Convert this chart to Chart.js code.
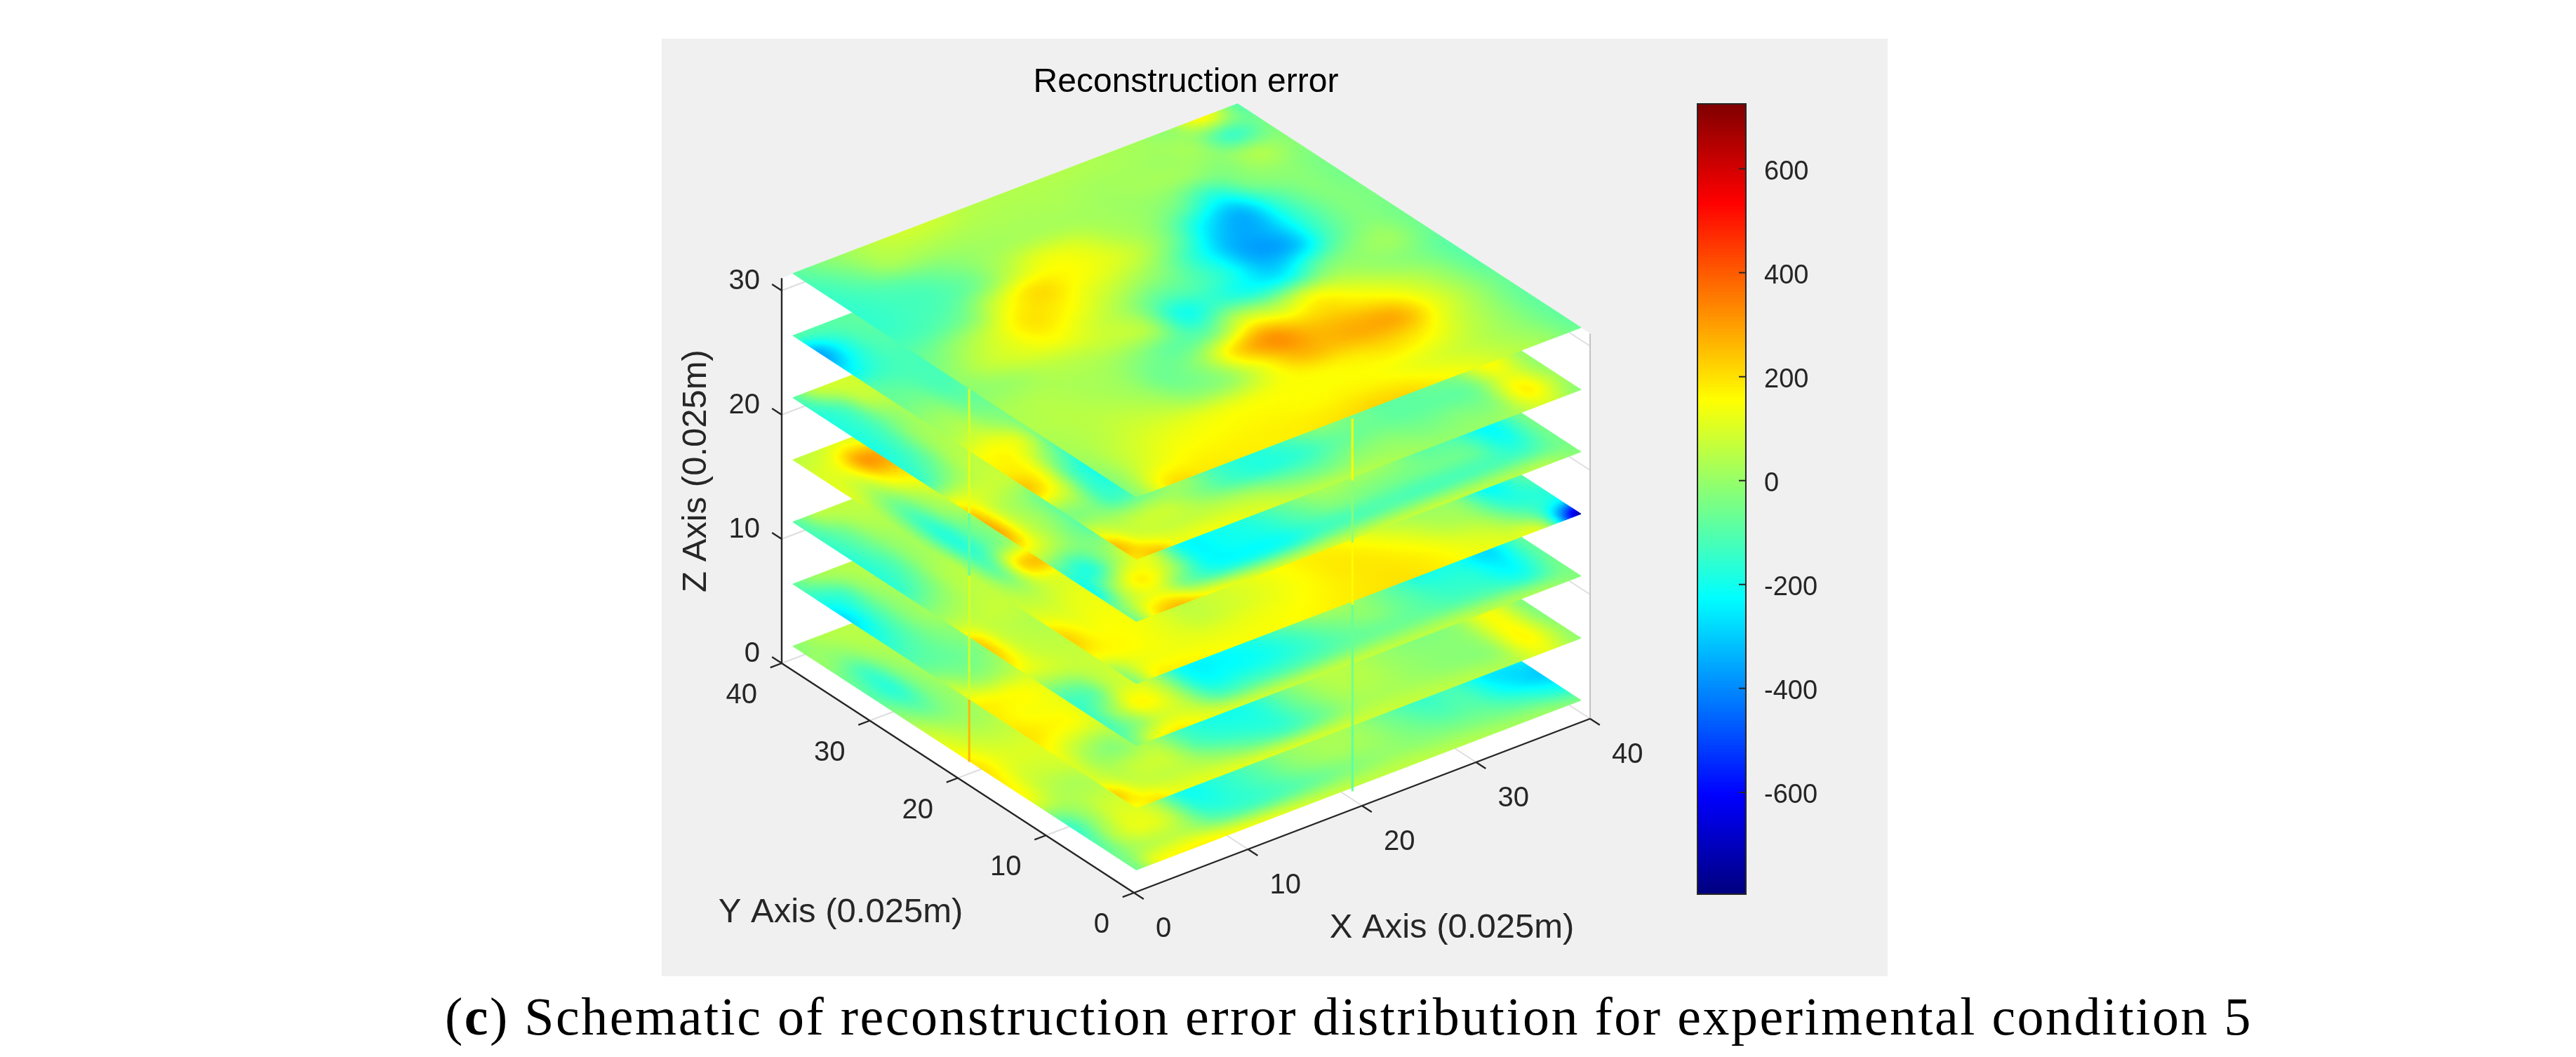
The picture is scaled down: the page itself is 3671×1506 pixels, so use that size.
<!DOCTYPE html>
<html>
	<head>
		<meta charset="utf-8">
		<title>Reconstruction error</title>
		<script src="https://cdn.jsdelivr.net/npm/chart.js"></script>
		<style>
			body {
				margin: 0;
				background: #fff;
				width: 3671px;
				height: 1506px;
				position: relative;
				overflow: hidden;
			}

			#panel {
				position: absolute;
				left: 943px;
				top: 55px;
				width: 1747px;
				height: 1336px;
				background: #f0f0f0;
			}

			#main {
				position: absolute;
				left: 0;
				top: 0;
			}

			#bar {
				position: absolute;
				left: 2418px;
				top: 147px;
			}

			#caption {
				position: absolute;
				left: 634px;
				top: 1405px;
				font: 76px "Liberation Serif", serif;
				letter-spacing: 2.5px;
				color: #000;
				white-space: nowrap;
			}
		</style>
	</head>
	<body>
		<div id="panel"></div>
		<canvas id="main" width="3671" height="1506"></canvas>
		<canvas id="bar" width="220" height="1128"></canvas>
		<div id="caption">(<b>c</b>) Schematic of reconstruction error distribution for experimental condition 5</div>
		<script>
			const titleText = 'Reconstruction error';
			const xLabel = 'X Axis (0.025m)';
			const yLabel = 'Y Axis (0.025m)';
			const zLabel = 'Z Axis (0.025m)';
			const xTicks = [0, 10, 20, 30, 40];
			const yTicks = [0, 10, 20, 30, 40];
			const zTicks = [0, 10, 20, 30];
			const barTicks = [-600, -400, -200, 0, 200, 400, 600];
			const barMin = -796;
			const barMax = 725;

			const gridX = [1.75, 4.75, 7.75, 10.75, 13.75, 16.75, 19.75, 22.75, 25.75, 28.75, 31.75, 34.75, 37.75, 40.75];
			const gridY = [2, 5, 8, 11, 14, 17, 20, 23, 26, 29, 32, 35, 38, 41];
			const leftX = [1.75, 3.7, 5.65, 8];
			const rightY = [2, 4.3, 6.7, 9.8];

			// top slice, z = 30. rows go along y, columns along x
			const sliceZ30 = [
				[-30, 190, 185, 180, 175, 180, 195, 215, 210, 165, 120, 60, 10, -70],
				[-20, 100, 150, 160, 165, 165, 160, 165, 155, 125, 90, 45, -10, -80],
				[10, 70, 110, 125, 130, 135, 150, 160, 175, 200, 170, 80, 0, -80],
				[30, 50, 70, 50, -10, 0, 130, 260, 260, 280, 270, 130, 20, -70],
				[40, 50, 40, 10, -60, 0, 200, 310, 235, 220, 170, 90, 0, -90],
				[30, 40, 30, 20, -30, -80, -60, 100, 60, 120, 70, 10, -30, -90],
				[-10, 10, 50, 60, 60, 30, -190, -140, -200, -220, -80, -20, 10, -60],
				[-10, 60, 110, 150, 100, 30, -80, -100, -180, -340, -320, -120, -30, -50],
				[-60, 10, 90, 190, 170, 100, 40, -30, -180, -340, -330, -150, -40, -40],
				[-120, -100, -40, 110, 200, 160, 120, 60, -60, -250, -330, -130, -30, -50],
				[-150, -130, -110, -50, 60, 130, 110, 40, 0, -70, -170, -40, -10, -40],
				[-150, -120, -90, -40, 10, 30, 30, 20, 10, 10, 0, -20, 30, -20],
				[-130, -70, 20, 30, 30, 30, 30, 30, 20, 20, 10, 10, -130, -50],
				[-90, -20, 40, 80, 80, 50, 40, 40, 40, 30, 20, 0, 150, -100]
			];

			// lower slices only show an L shaped strip, the rest is under the slice above.
			// left strips: y = 41 down to 14, x = leftX
			const leftZ25 = [
				[-100, -100, -90, -70],
				[-350, -200, -110, -100],
				[-250, -170, -120, -120],
				[-100, -110, -120, -120],
				[-60, -60, -110, -90],
				[0, 0, -60, -60],
				[40, 60, 0, -60],
				[140, 150, 90, -130],
				[180, 150, -20, -180],
				[230, 120, -120, -220]
			];
			// corners: y = rightY, x = leftX
			const cornerZ25 = [
				[190, 240, 140, 140],
				[250, 120, 80, 70],
				[100, 50, 60, 60],
				[-30, -30, -130, -100]
			];
			// right strips: y = rightY, x = 10.75 up to 40.75
			const rightZ25 = [
				[130, 100, 60, 50, 40, 20, 0, 0, 20, 100, -20],
				[60, 30, -40, -60, -20, -10, -40, -30, -20, 170, 20],
				[-20, -120, -170, -150, -80, -60, -80, -80, -60, 120, 0],
				[0, -130, -170, -120, -30, -60, -100, -80, -30, 130, -20]
			];
			const leftZ20 = [
				[-100, 60, 90, 80],
				[-170, -100, 50, 60],
				[-180, -130, -20, 40],
				[-190, -120, 0, 30],
				[-170, -100, 20, 50],
				[-120, -30, 50, 60],
				[120, 90, 70, 60],
				[250, 70, 0, -80],
				[270, 80, -10, -120],
				[110, 40, -40, -100]
			];
			const cornerZ20 = [
				[-60, 190, 250, 160],
				[-60, 90, 120, -50],
				[-200, 30, 170, 60],
				[-150, -170, 0, 100]
			];
			const rightZ20 = [
				[120, 90, 80, 80, 80, 70, 70, 60, 50, 40, -30],
				[-170, -200, -190, -130, -110, -100, -110, -110, -110, -120, -50],
				[-210, -210, -180, -100, -30, -40, -50, -60, -80, -200, -50],
				[-190, -190, -150, -60, 20, 20, 0, -90, -120, -220, -50]
			];
			const leftZ15 = [
				[60, 80, 120, 100],
				[100, 140, 300, 260],
				[110, 60, 170, 200],
				[50, -50, 40, 120],
				[20, -130, -10, 60],
				[10, -170, -60, 10],
				[40, -140, -40, 40],
				[50, -60, 210, 240],
				[60, 30, 100, 120],
				[100, 90, 120, 130]
			];
			const cornerZ15 = [
				[-40, 160, 170, 160],
				[20, 120, 140, 130],
				[150, 160, 150, 120],
				[220, 150, 150, 130]
			];
			const rightZ15 = [
				[150, 150, 160, 175, 190, 195, 175, 140, 110, 40, -750],
				[120, 130, 145, 165, 185, 190, 165, 110, 60, -80, -250],
				[70, 90, 120, 155, 185, 175, 125, 50, 0, -170, -150],
				[70, 90, 120, 155, 170, 135, 60, 20, 0, -200, -50]
			];
			const leftZ10 = [
				[-100, 40, 60, 60],
				[-130, -60, 30, 40],
				[-160, -90, 0, 30],
				[-170, -110, 0, 30],
				[-150, -70, 30, 50],
				[-40, 0, 50, 60],
				[60, 60, 70, 60],
				[220, 80, 50, 40],
				[200, 90, 60, 60],
				[80, 80, 70, 80]
			];
			const cornerZ10 = [
				[-40, 130, 180, 130],
				[-110, -10, 90, 70],
				[-130, 20, 160, 70],
				[-130, -90, 60, 60]
			];
			const rightZ10 = [
				[100, 80, 70, 70, 70, 60, 60, 60, 40, 20, -30],
				[-110, -120, -120, -100, -70, -60, -70, -100, -120, -170, -50],
				[-200, -220, -200, -140, -60, -20, -80, -150, -170, -240, -80],
				[-180, -190, -150, -60, 30, 20, -60, -170, -170, -250, -60]
			];
			const leftZ5 = [
				[-80, 10, 40, 60],
				[-180, -130, 0, 40],
				[-270, -140, -20, 30],
				[-200, -120, -20, 30],
				[-130, -90, -40, 0],
				[-60, -70, -50, 10],
				[60, 0, 10, 70],
				[170, 150, 140, 100],
				[175, 150, 140, 110],
				[190, 160, 140, 90]
			];
			const cornerZ5 = [
				[140, 190, 130, 120],
				[220, 100, 70, 60],
				[100, 50, 70, 60],
				[110, 20, -20, 20]
			];
			const rightZ5 = [
				[120, 110, 100, 90, 80, 70, 60, 50, 40, 120, -10],
				[0, -80, -120, -60, 20, 30, 10, -10, 0, 160, 0],
				[-110, -170, -170, -60, 30, 40, 0, -20, 0, 150, -30],
				[-110, -170, -150, -30, 50, 50, 10, -20, 0, 130, -20]
			];
			const leftZ0 = [
				[-20, 30, 50, 50],
				[0, -20, 30, 50],
				[-60, -130, -10, 40],
				[-90, -160, -30, 30],
				[-20, -80, -20, 30],
				[70, 20, 10, 50],
				[130, 80, 60, 80],
				[190, 120, 100, 110],
				[170, 90, 80, 100],
				[120, 50, 30, 50]
			];
			const cornerZ0 = [
				[-60, 130, 160, 170],
				[-60, 30, 60, 40],
				[-100, 50, 120, 70],
				[-130, 0, 90, 60]
			];
			const rightZ0 = [
				[140, 120, 90, 70, 60, 60, 50, 40, 20, 10, -40],
				[-80, -120, -100, -60, -20, 0, -20, -40, -60, -120, -200],
				[-170, -160, -100, -20, 20, 10, -50, -110, -110, -230, -300],
				[-170, -140, -80, 0, 30, 20, -60, -130, -110, -230, -200]
			];

			const lowerZ = [0, 5, 10, 15, 20, 25];
			const lowerLeft = [leftZ0, leftZ5, leftZ10, leftZ15, leftZ20, leftZ25];
			const lowerCorner = [cornerZ0, cornerZ5, cornerZ10, cornerZ15, cornerZ20, cornerZ25];
			const lowerRight = [rightZ0, rightZ5, rightZ10, rightZ15, rightZ20, rightZ25];

			// the thin vertical stripes, value per 5 unit step of z
			const stripeA = [260, 90, 100, -80, 120, 100];
			const stripeB = [-90, -60, -70, 160, -20, 160];

			// view of the 3d axes, data units to the plane the chart scales show
			function project(x, y, z) {
				return {
					x: 1616 + 16.25 * x - 12.55 * y,
					y: 1272 - 6.2 * x - 8.175 * y - 17.7 * z
				};
			}

			function jet(v) {
				const t = (v - barMin) / (barMax - barMin);
				const part = (c) => Math.round(255 * Math.min(1, Math.max(0, 1.5 - Math.abs(4 * t - c))));
				return `rgb(${part(3)},${part(2)},${part(1)})`;
			}

			function cubic(a, b, c, d, t) {
				return b + 0.5 * t * (c - a + t * (2 * a - 5 * b + 4 * c - d + t * (3 * (b - c) + d - a)));
			}

			class SliceController extends Chart.ScatterController {
				draw() {
					const ds = this.getDataset();
					const ctx = this.chart.ctx;
					const sx = this._cachedMeta.xScale;
					const sy = this._cachedMeta.yScale;
					const cols = ds.cols;
					const rows = ds.data.length / cols;
					const node = (j, i) => ds.data[Math.min(rows - 1, Math.max(0, j)) * cols + Math.min(cols - 1, Math.max(0, i))];
					const px = (n) => ({ x: sx.getPixelForValue(n.x), y: sy.getPixelForValue(n.y) });
					const value = (j, i, s, t) => {
						const r = [];
						for (let k = -1; k < 3; k++) {
							r.push(cubic(node(j + k, i - 1).v, node(j + k, i).v, node(j + k, i + 1).v, node(j + k, i + 2).v, t));
						}
						return cubic(r[0], r[1], r[2], r[3], s);
					};
					ctx.save();
					ctx.lineWidth = 1;
					for (let j = 0; j < rows - 1; j++) {
						for (let i = 0; i < cols - 1; i++) {
							const a = px(node(j, i));
							const b = px(node(j, i + 1));
							const c = px(node(j + 1, i + 1));
							const d = px(node(j + 1, i));
							const nt = Math.ceil(Math.hypot(b.x - a.x, b.y - a.y) / 4);
							const ns = Math.ceil(Math.hypot(d.x - a.x, d.y - a.y) / 4);
							const at = (s, t) => ({
								x: a.x * (1 - s) * (1 - t) + b.x * (1 - s) * t + c.x * s * t + d.x * s * (1 - t),
								y: a.y * (1 - s) * (1 - t) + b.y * (1 - s) * t + c.y * s * t + d.y * s * (1 - t)
							});
							for (let p = 0; p < ns; p++) {
								for (let q = 0; q < nt; q++) {
									const col = jet(value(j, i, (p + 0.5) / ns, (q + 0.5) / nt));
									const p1 = at(p / ns, q / nt);
									const p2 = at(p / ns, (q + 1) / nt);
									const p3 = at((p + 1) / ns, (q + 1) / nt);
									const p4 = at((p + 1) / ns, q / nt);
									ctx.fillStyle = col;
									ctx.strokeStyle = col;
									ctx.beginPath();
									ctx.moveTo(p1.x, p1.y);
									ctx.lineTo(p2.x, p2.y);
									ctx.lineTo(p3.x, p3.y);
									ctx.lineTo(p4.x, p4.y);
									ctx.closePath();
									ctx.fill();
									ctx.stroke();
								}
							}
						}
					}
					ctx.restore();
				}
			}
			SliceController.id = 'slice';
			SliceController.defaults = Chart.ScatterController.defaults;
			Chart.register(SliceController);

			function sliceDataset(rows, xs, ys, z, order) {
				const data = [];
				ys.forEach((y, j) => {
					xs.forEach((x, i) => {
						const p = project(x, y, z + 0.3);
						data.push({ x: p.x, y: p.y, v: rows[j][i] });
					});
				});
				return { type: 'slice', data: data, cols: xs.length, order: order, pointRadius: 0 };
			}

			// one grid per lower slice out of its left strip, corner and right strip
			function lowerRows(left, corner, right) {
				const rows = corner.map((row, j) => row.concat(right[j]));
				for (let j = left.length - 1; j >= 0; j--) {
					const row = left[j].slice();
					while (row.length < corner[0].length + right[0].length) {
						row.push(row[3]);
					}
					rows.push(row);
				}
				return rows;
			}

			function lineDataset(segments, color, width, order) {
				const data = [];
				segments.forEach((seg) => {
					data.push(project(seg[0], seg[1], seg[2]), project(seg[3], seg[4], seg[5]), { x: NaN, y: NaN });
				});
				return {
					type: 'scatter',
					showLine: true,
					pointRadius: 0,
					borderColor: color,
					borderWidth: width,
					data: data,
					order: order
				};
			}

			const datasets = [];

			// light grid on the floor and the two back walls
			const gridSegs = [];
			xTicks.forEach((x) => gridSegs.push([x, 0, 0, x, 40, 0]));
			yTicks.forEach((y) => gridSegs.push([0, y, 0, 40, y, 0]));
			zTicks.forEach((z) => {
				gridSegs.push([0, 40, z, 40, 40, z]);
				gridSegs.push([40, 0, z, 40, 40, z]);
			});
			datasets.push(lineDataset(gridSegs, '#dedede', 2, 100));
			datasets.push(lineDataset([[40, 0, 0, 40, 0, 31]], '#c4c4c4', 2, 99));

			const lowerX = leftX.concat(gridX.slice(3));
			const lowerY = rightY.concat(gridY.slice(4));
			lowerZ.forEach((z, k) => {
				datasets.push(sliceDataset(lowerRows(lowerLeft[k], lowerCorner[k], lowerRight[k]), lowerX, lowerY, z, 60 - k));
			});
			datasets.push(sliceDataset(sliceZ30, gridX, gridY, 30, 10));

			// axes and their ticks
			const axisSegs = [[0, 0, 0, 40, 0, 0], [0, 0, 0, 0, 40, 0], [0, 40, 0, 0, 40, 31]];
			xTicks.forEach((x) => axisSegs.push([x, 0, 0, x, -1.1, 0]));
			yTicks.forEach((y) => axisSegs.push([0, y, 0, -1, y, 0]));
			zTicks.forEach((z) => axisSegs.push([0, 40, z, 0, 41.1, z]));
			datasets.push(lineDataset(axisSegs, '#262626', 2.4, 5));

			stripeA.forEach((v, k) => {
				datasets.push(lineDataset([[2, 21.3, 5 * k, 2, 21.3, 5 * k + 5]], jet(v), 3, 2));
			});
			stripeB.forEach((v, k) => {
				datasets.push(lineDataset([[20.7, 2, 5 * k, 20.7, 2, 5 * k + 5]], jet(v), 3, 2));
			});

			const backWall = {
				id: 'backWall',
				beforeDatasetsDraw(chart) {
					const { ctx, scales } = chart;
					const corners = [[0, 40, 31], [0, 40, 0], [0, 0, 0], [40, 0, 0], [40, 0, 31], [40, 40, 31]];
					ctx.save();
					ctx.fillStyle = '#fff';
					ctx.beginPath();
					corners.forEach((c) => {
						const p = project(c[0], c[1], c[2]);
						ctx.lineTo(scales.x.getPixelForValue(p.x), scales.y.getPixelForValue(p.y));
					});
					ctx.closePath();
					ctx.fill();
					ctx.restore();
				}
			};

			const axisText = {
				id: 'axisText',
				afterDraw(chart) {
					const { ctx, scales } = chart;
					const put = (text, x, y, align) => {
						ctx.textAlign = align;
						ctx.fillText(text, scales.x.getPixelForValue(x), scales.y.getPixelForValue(y));
					};
					ctx.save();
					ctx.textBaseline = 'middle';
					ctx.fillStyle = '#262626';
					ctx.font = '40px "Liberation Sans"';
					xTicks.forEach((x) => {
						const p = project(x, 0, 0);
						put(String(x), p.x + 31, p.y + 52, 'left');
					});
					yTicks.forEach((y) => {
						const p = project(0, y, 0);
						put(String(y), p.x - 35, p.y + 46, 'right');
					});
					zTicks.forEach((z) => {
						const p = project(0, 40, z);
						put(String(z), p.x - 31, p.y - 13, 'right');
					});
					ctx.font = '49px "Liberation Sans"';
					put(xLabel, 2069, 1322, 'center');
					put(yLabel, 1198, 1300, 'center');
					ctx.save();
					ctx.translate(scales.x.getPixelForValue(992), scales.y.getPixelForValue(671));
					ctx.rotate(-Math.PI / 2);
					ctx.textAlign = 'center';
					ctx.fillText(zLabel, 0, 0);
					ctx.restore();
					ctx.fillStyle = '#000';
					ctx.font = '48px "Liberation Sans"';
					put(titleText, 1690, 118, 'center');
					ctx.restore();
				}
			};

			new Chart(document.getElementById('main'), {
				type: 'scatter',
				data: { datasets: datasets },
				options: {
					responsive: false,
					animation: false,
					layout: { padding: 0 },
					plugins: { legend: { display: false }, tooltip: { enabled: false } },
					scales: {
						x: { type: 'linear', min: 0, max: 3671, display: false },
						y: { type: 'linear', min: 0, max: 1506, reverse: true, display: false }
					}
				},
				plugins: [backWall, axisText]
			});

			// colour bar. each bar runs up from the bottom and covers the ones above it, so no seams
			const barLevels = [];
			for (let i = 0; i < 256; i++) {
				barLevels.push(barMin + (barMax - barMin) * i / 256);
			}
			const barStep = (barMax - barMin) / 256;

			const barFrame = {
				id: 'barFrame',
				afterDraw(chart) {
					const { ctx, chartArea, scales } = chart;
					ctx.save();
					ctx.strokeStyle = '#262626';
					ctx.lineWidth = 2;
					ctx.strokeRect(chartArea.left, chartArea.top, chartArea.width, chartArea.height);
					ctx.beginPath();
					barTicks.forEach((v) => {
						const y = scales.y.getPixelForValue(v);
						ctx.moveTo(chartArea.right - 10, y);
						ctx.lineTo(chartArea.right, y);
					});
					ctx.stroke();
					ctx.restore();
				}
			};

			new Chart(document.getElementById('bar'), {
				type: 'bar',
				data: {
					labels: [''],
					datasets: barLevels.map((v) => ({
						data: [[barMin, v + barStep]],
						backgroundColor: jet(v + barStep / 2),
						grouped: false,
						barPercentage: 1,
						categoryPercentage: 1
					}))
				},
				options: {
					responsive: false,
					animation: false,
					layout: { padding: { top: 1, bottom: 1, left: 1, right: 0 } },
					plugins: { legend: { display: false }, tooltip: { enabled: false } },
					scales: {
						x: { display: false },
						y: {
							position: 'right',
							min: barMin,
							max: barMax,
							grid: { display: false },
							border: { display: false },
							afterBuildTicks: (scale) => {
								scale.ticks = barTicks.map((v) => ({ value: v }));
							},
							afterFit: (scale) => {
								scale.width = 150;
								scale.paddingTop = 0;
								scale.paddingBottom = 0;
							},
							ticks: {
								padding: 18,
								labelOffset: 5,
								color: '#262626',
								font: { family: '"Liberation Sans"', size: 38 }
							}
						}
					}
				},
				plugins: [barFrame]
			});
		</script>
	</body>
</html>
